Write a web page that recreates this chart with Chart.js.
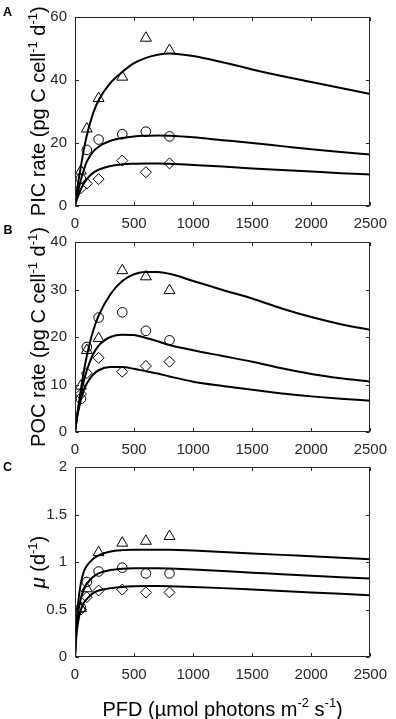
<!DOCTYPE html>
<html>
<head>
<meta charset="utf-8">
<script src="https://cdn.jsdelivr.net/npm/chart.js@4.4.0/dist/chart.umd.min.js"></script>
<style>
  html, body { margin: 0; padding: 0; background: #fff; }
  #wrap { position: relative; width: 396px; height: 719px; overflow: hidden; }
  #wrap canvas { position: absolute; left: 0; }
</style>
</head>
<body>
<div id="wrap">
  <canvas id="panelA" width="396" height="240" style="top:0"></canvas>
  <canvas id="panelB" width="396" height="240" style="top:225px"></canvas>
  <canvas id="panelC" width="396" height="269" style="top:450px"></canvas>
</div>
<script>
/* ---------- data ---------- */
const xTicks = [0, 500, 1000, 1500, 2000, 2500];
const pfdObs = [50, 100, 200, 400, 600, 800];
const pfdFit = [0, 10, 25, 50, 75, 100, 150, 200, 300, 400, 500, 600, 700, 800, 1000, 1250, 1500, 1750, 2000, 2250, 2500];

// A: PIC rate
const yTicksA = [0, 20, 40, 60];
const picObsHigh = [11, 24.4, 34.1, 40.9, 53.3, 49.4];
const picObsMid  = [8.5, 17.7, 21.0, 22.7, 23.5, 22.0];
const picObsLow  = [5.5, 7.0, 8.4, 14.3, 10.6, 13.4];
const picFitHigh = [0, 2.8, 6.8, 12.5, 17.8, 22.3, 29, 33.5, 39, 42.5, 45.3, 47, 48, 48.4, 47.6, 45.6, 43.3, 41.2, 39.3, 37.4, 35.5];
const picFitMid  = [0, 1.8, 4.3, 8.2, 11.4, 14, 17, 18.7, 20.6, 21.5, 22, 22.2, 22.3, 22.2, 21.7, 20.8, 19.9, 18.9, 17.9, 17, 16.2];
const picFitLow  = [0, 1.2, 2.8, 5.2, 7, 8.4, 10.3, 11.4, 12.6, 13.1, 13.3, 13.4, 13.4, 13.3, 12.9, 12.4, 11.8, 11.3, 10.8, 10.3, 9.9];

// B: POC rate
const yTicksB = [0, 10, 20, 30, 40];
const pocObsHigh = [9.7, 17.2, 19.7, 34.0, 32.7, 29.8];
const pocObsMid  = [7.0, 17.9, 24.1, 25.2, 21.3, 19.3];
const pocObsLow  = [8.0, 12.4, 15.6, 12.7, 13.9, 14.8];
const pocFitHigh = [0, 2, 4.8, 9, 12.8, 16, 21, 24.5, 29, 31.8, 33.2, 33.7, 33.7, 33.3, 31.8, 29.9, 28.1, 26.0, 24.2, 22.7, 21.5];
const pocFitMid  = [0, 2, 4.5, 8, 10.8, 13, 16.2, 18.2, 20, 20.5, 20.4, 19.8, 19.1, 18.3, 17.2, 16, 14.8, 13.4, 12.2, 11.3, 10.6];
const pocFitLow  = [0, 1.8, 4, 6.8, 8.8, 10.2, 12, 13, 13.7, 13.7, 13.3, 12.8, 12.3, 11.7, 10.6, 9.7, 8.9, 8.1, 7.5, 7.0, 6.6];

// C: growth rate
const yTicksC = [0, 0.5, 1, 1.5, 2];
const muObsHigh = [0.51, 0.72, 1.10, 1.20, 1.22, 1.27];
const muObsMid  = [0.52, 0.79, 0.90, 0.94, 0.88, 0.88];
const muObsLow  = [0.50, 0.63, 0.70, 0.71, 0.68, 0.68];
const muFitHigh = [0, 0.3, 0.55, 0.78, 0.9, 0.96, 1.03, 1.07, 1.11, 1.125, 1.13, 1.13, 1.13, 1.128, 1.12, 1.105, 1.09, 1.075, 1.06, 1.045, 1.03];
const muFitMid  = [0, 0.25, 0.45, 0.62, 0.71, 0.77, 0.84, 0.88, 0.915, 0.93, 0.935, 0.935, 0.935, 0.932, 0.922, 0.905, 0.888, 0.87, 0.855, 0.84, 0.825];
const muFitLow  = [0, 0.2, 0.36, 0.5, 0.57, 0.61, 0.67, 0.7, 0.725, 0.738, 0.745, 0.748, 0.748, 0.746, 0.738, 0.725, 0.71, 0.695, 0.68, 0.665, 0.65];

/* ---------- helpers ---------- */
const FONT = '"Liberation Sans", Arial, sans-serif';
const INK = "#262626";

const pts = (xs, ys) => xs.map((x, i) => ({ x, y: ys[i] }));

function fitSet(ys) {
  return {
    type: "line", data: pts(pfdFit, ys),
    borderColor: "#000", borderWidth: 2, pointRadius: 0,
    cubicInterpolationMode: "monotone", fill: false
  };
}
function obsSet(ys, style, r) {
  return {
    type: "scatter", data: pts(pfdObs, ys),
    pointStyle: style, pointRadius: r,
    borderColor: "#000", backgroundColor: "rgba(0,0,0,0)", pointBorderWidth: 1
  };
}

function partFont(p, size) {
  const s = p.sup ? size * 0.65 : size;
  return (p.italic ? "italic " : "") + s + "px " + FONT;
}
function drawRich(ctx, parts, x, y, size) {
  let w = 0;
  parts.forEach(p => { ctx.font = partFont(p, size); w += ctx.measureText(p.t).width; });
  let cx = x - w / 2;
  parts.forEach(p => {
    ctx.font = partFont(p, size);
    ctx.fillText(p.t, cx, p.sup ? y - size * 0.42 : y);
    cx += ctx.measureText(p.t).width;
  });
}

// box, inward ticks, titles, panel letter
function decor(o) {
  return {
    id: "decor",
    afterDatasetsDraw(chart) {
      const { ctx, chartArea: a, scales: { x, y } } = chart;
      const L = Math.round(a.left) + 0.5, R = Math.round(a.right) - 0.5;
      const T = Math.round(a.top) + 0.5, B = Math.round(a.bottom) - 0.5;
      const tk = 3.5;
      ctx.save();
      ctx.strokeStyle = INK; ctx.lineWidth = 1;
      ctx.strokeRect(L, T, R - L, B - T);
      ctx.beginPath();
      x.ticks.forEach(t => {
        const px = Math.round(x.getPixelForValue(t.value)) + 0.5;
        ctx.moveTo(px, B); ctx.lineTo(px, B - tk);
        ctx.moveTo(px, T); ctx.lineTo(px, T + tk);
      });
      y.ticks.forEach(t => {
        const py = Math.round(y.getPixelForValue(t.value)) + 0.5;
        ctx.moveTo(L, py); ctx.lineTo(L + tk, py);
        ctx.moveTo(R, py); ctx.lineTo(R - tk, py);
      });
      ctx.stroke();

      ctx.fillStyle = "#000";
      ctx.textBaseline = "alphabetic";
      ctx.textAlign = "left";
      // y title, rotated
      ctx.save();
      ctx.translate(45, (a.top + a.bottom) / 2);
      ctx.rotate(-Math.PI / 2);
      drawRich(ctx, o.yTitle, 0, 0, 20);
      ctx.restore();
      // x title
      if (o.xTitle) drawRich(ctx, o.xTitle, (a.left + a.right) / 2, o.xTitleY, 20);
      // panel letter
      ctx.font = "bold 12.5px " + FONT;
      ctx.fillText(o.letter, o.letterX, o.letterY);
      ctx.restore();
    }
  };
}

function makePanel(id, p) {
  new Chart(document.getElementById(id), {
    type: "scatter",
    data: {
      datasets: [
        fitSet(p.fit[0]), fitSet(p.fit[1]), fitSet(p.fit[2]),
        obsSet(p.obs[0], "triangle", 6.3),
        obsSet(p.obs[1], "circle", 4.8),
        obsSet(p.obs[2], "rectRot", 5.5)
      ]
    },
    options: {
      responsive: false, animation: false, devicePixelRatio: 1,
      layout: { padding: { top: p.top, right: 19.5, bottom: 0, left: 0 } },
      plugins: { legend: { display: false }, tooltip: { enabled: false } },
      scales: {
        x: {
          type: "linear", min: 0, max: 2500,
          afterBuildTicks: s => { s.ticks = xTicks.map(v => ({ value: v })); },
          afterFit: s => { s.height = p.xh; },
          ticks: { color: INK, padding: 9, font: { family: FONT, size: 15 }, callback: v => String(v) },
          grid: { display: false, drawTicks: false },
          border: { display: false }
        },
        y: {
          type: "linear", min: p.yTicks[0], max: p.yTicks[p.yTicks.length - 1],
          afterBuildTicks: s => { s.ticks = p.yTicks.map(v => ({ value: v })); },
          afterFit: s => { s.width = 75; },
          ticks: { color: INK, padding: 8, font: { family: FONT, size: 15 }, callback: v => String(v) },
          grid: { display: false, drawTicks: false },
          border: { display: false }
        }
      }
    },
    plugins: [decor(p)]
  });
}

/* ---------- panels ---------- */
makePanel("panelA", {
  top: 8.5, xh: 34.5, yTicks: yTicksA,
  fit: [picFitHigh, picFitMid, picFitLow], obs: [picObsHigh, picObsMid, picObsLow],
  letter: "A", letterX: 3, letterY: 15.5,
  yTitle: [{ t: "PIC rate (pg C cell" }, { t: "-1", sup: true }, { t: " d" }, { t: "-1", sup: true }, { t: ")" }]
});
makePanel("panelB", {
  top: 10, xh: 33, yTicks: yTicksB,
  fit: [pocFitHigh, pocFitMid, pocFitLow], obs: [pocObsHigh, pocObsMid, pocObsLow],
  letter: "B", letterX: 3.5, letterY: 9,
  yTitle: [{ t: "POC rate (pg C cell" }, { t: "-1", sup: true }, { t: " d" }, { t: "-1", sup: true }, { t: ")" }]
});
makePanel("panelC", {
  top: 9.5, xh: 62, yTicks: yTicksC,
  fit: [muFitHigh, muFitMid, muFitLow], obs: [muObsHigh, muObsMid, muObsLow],
  letter: "C", letterX: 3, letterY: 20.5,
  yTitle: [{ t: "\u03bc", italic: true }, { t: " (d" }, { t: "-1", sup: true }, { t: ")" }],
  xTitle: [{ t: "PFD (\u00b5mol photons m" }, { t: "-2", sup: true }, { t: " s" }, { t: "-1", sup: true }, { t: ")" }],
  xTitleY: 265.5
});
</script>
</body>
</html>
